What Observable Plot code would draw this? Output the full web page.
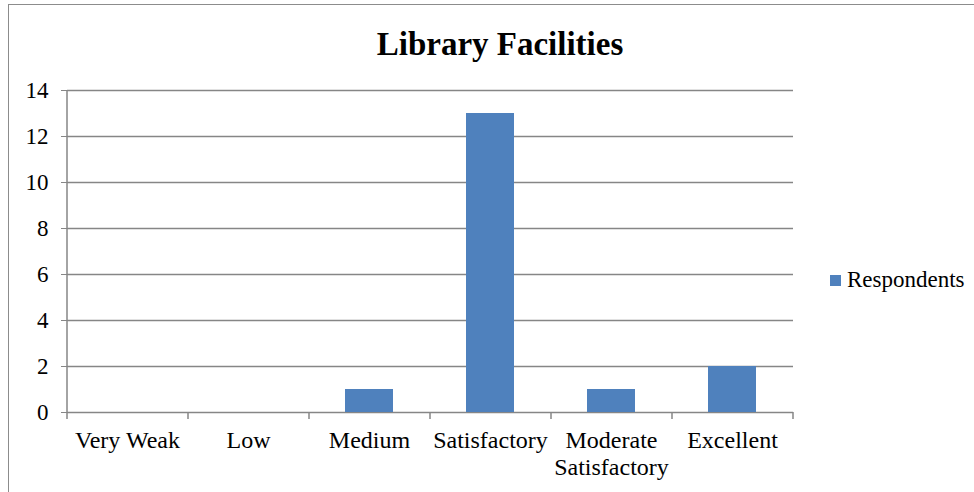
<!DOCTYPE html>
<html>
<head>
<meta charset="utf-8">
<script src="https://cdn.jsdelivr.net/npm/d3@7"></script>
<script src="https://cdn.jsdelivr.net/npm/@observablehq/plot@0.6"></script>
<style>
  html, body { margin: 0; padding: 0; background: #fff; }
  #wrap { position: relative; width: 974px; height: 492px; overflow: hidden; font-family: "Liberation Serif", "Times New Roman", serif; }
  #frame { position: absolute; left: 8px; top: 4px; width: 980px; height: 500px; border: 1.5px solid #8c8c8c; box-sizing: border-box; }
  #title { position: absolute; left: 0; width: 1000px; top: 25px; text-align: center; font-size: 33px; font-weight: bold; color: #000; line-height: 1.2; }
  #legend { position: absolute; left: 830px; top: 267px; font-size: 23px; color: #000; display: flex; align-items: center; }
  #legend .sw { width: 11px; height: 11px; background: #4F81BD; margin-right: 6px; }
  #chart { position: absolute; left: 0; top: 0; }
</style>
</head>
<body>
<div id="wrap">
  <div id="frame"></div>
  <div id="title">Library Facilities</div>
  <div id="legend"><span class="sw"></span><span id="legtext"></span></div>
  <div id="chart"></div>
</div>
<script>
const categories = ["Very Weak", "Low", "Medium", "Satisfactory", "Moderate\nSatisfactory", "Excellent"];
const respondents = [0, 0, 1, 13, 1, 2];
const yTicks = [0, 2, 4, 6, 8, 10, 12, 14];
const seriesName = "Respondents";
const barColor = "#4F81BD";

const data = categories.map((c, i) => ({category: c, value: respondents[i]}));
document.getElementById("legtext").textContent = seriesName;

const W = 974, H = 492, mL = 67, mR = 181;
const step = (W - mL - mR) / categories.length;

const chart = Plot.plot({
  width: W,
  height: H,
  marginLeft: mL,
  marginRight: mR,
  marginTop: 90,
  marginBottom: 80,
  style: {fontFamily: "Liberation Serif, Times New Roman, serif", fontSize: "23px", color: "#000", background: "transparent", overflow: "visible"},
  x: {domain: categories, paddingInner: 0.6, paddingOuter: 0.3, label: null},
  y: {domain: [0, 14], label: null},
  marks: [
    Plot.ruleY(yTicks, {stroke: "#868686", strokeWidth: 1.5}),
    Plot.barY(data, {x: "category", y: "value", fill: barColor}),
    Plot.axisY({ticks: yTicks, tickSize: 6, tickPadding: 13, stroke: "#868686", fill: "#000", label: null, fontSize: 23}),
    Plot.ruleX([categories[0]], {dx: -step / 2, stroke: "#868686", strokeWidth: 1.5}),
    Plot.ruleX(categories, {dx: -step / 2, y1: 0, y2: 0, insetBottom: -7, stroke: "#868686", strokeWidth: 1.5}),
    Plot.ruleX([categories[categories.length - 1]], {dx: step / 2, y1: 0, y2: 0, insetBottom: -7, stroke: "#868686", strokeWidth: 1.5}),
    Plot.axisX({tickSize: 0, tickPadding: 17, fill: "#000", label: null, fontSize: 24, lineHeight: 1.1})
  ]
});
document.getElementById("chart").appendChild(chart);
</script>
</body>
</html>
